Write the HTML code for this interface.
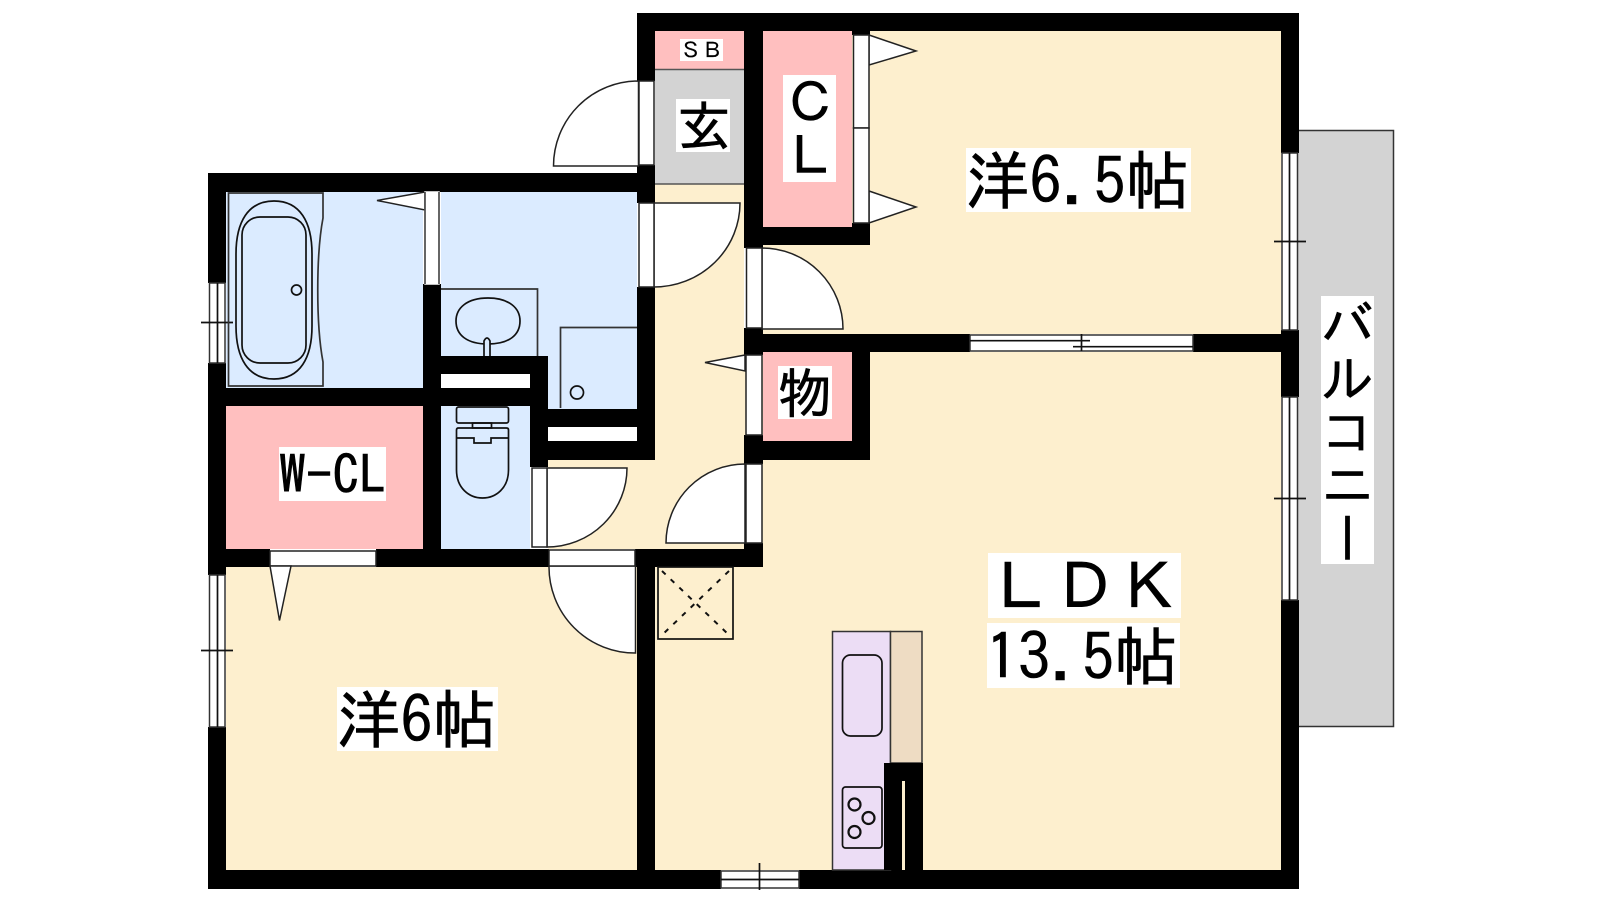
<!DOCTYPE html>
<html lang="ja"><head><meta charset="utf-8"><title>間取り図</title>
<style>
html,body{margin:0;padding:0;background:#fff;width:1600px;height:900px;overflow:hidden}
svg{position:absolute;left:0;top:0}
.v{position:absolute;left:1321px;top:296px;width:53px;height:268px;background:#fff;writing-mode:vertical-rl;font:53px/53px "IPAGothic","Noto Sans CJK JP",sans-serif;color:#000;text-align:center;white-space:nowrap;-webkit-text-stroke:.5px #000}
text{font-family:"IPAGothic","Noto Sans CJK JP",sans-serif;fill:#000;stroke:#000;stroke-width:.6px}
</style></head><body>
<svg width="1600" height="900" viewBox="0 0 1600 900">
<rect width="1600" height="900" fill="#fff"/>
<!-- balcony -->
<rect x="1295" y="130.500" width="98.500" height="596" fill="#d3d3d3" stroke="#333" stroke-width="1.500"/>
<!-- floors -->
<g fill="#fdefce">
<rect x="763" y="31" width="518" height="303"/>
<rect x="655" y="352" width="626" height="518"/>
<rect x="655" y="184" width="89" height="365"/>
<rect x="548" y="460" width="196" height="89"/>
<rect x="226" y="567" width="411" height="303"/>
</g>
<g fill="#dbebff">
<rect x="226" y="192" width="197" height="196"/>
<rect x="441" y="192" width="196" height="164"/>
<rect x="548" y="356" width="89" height="53"/>
<rect x="441" y="406" width="89" height="143"/>
</g>
<g fill="#ffbfbf">
<rect x="655" y="31" width="89" height="38"/>
<rect x="763" y="31" width="89" height="196"/>
<rect x="763" y="352" width="89" height="89"/>
<rect x="226" y="406" width="197" height="143"/>
</g>
<rect x="655" y="69" width="89" height="115" fill="#d3d3d3"/>
<path d="M655 69.500H744M655 184H744" stroke="#555" stroke-width="1.500"/>
<!-- white gaps -->
<rect x="441" y="374" width="89" height="14" fill="#fff"/>
<rect x="548" y="427" width="89" height="14" fill="#fff"/>
<!-- walls -->
<g fill="#000">
<rect x="637" y="13" width="662" height="18"/>
<rect x="637" y="13" width="18" height="68"/>
<rect x="637" y="165" width="18" height="38"/>
<rect x="208" y="173" width="447" height="19"/>
<rect x="744" y="13" width="19" height="235"/>
<rect x="852" y="31" width="18" height="4"/>
<rect x="852" y="223" width="18" height="22"/>
<rect x="744" y="227" width="126" height="18"/>
<rect x="1281" y="13" width="18" height="140"/>
<rect x="1281" y="330" width="18" height="67"/>
<rect x="1281" y="600" width="18" height="289"/>
<rect x="744" y="334" width="226" height="18"/>
<rect x="1193" y="334" width="88" height="18"/>
<rect x="744" y="328" width="19" height="27"/>
<rect x="852" y="334" width="18" height="126"/>
<rect x="744" y="441" width="126" height="19"/>
<rect x="744" y="435" width="19" height="29"/>
<rect x="744" y="543" width="19" height="24"/>
<rect x="635" y="549" width="128" height="18"/>
<rect x="637" y="549" width="18" height="340"/>
<rect x="637" y="287" width="18" height="173"/>
<rect x="548" y="409" width="89" height="18"/>
<rect x="548" y="441" width="89" height="19"/>
<rect x="530" y="356" width="18" height="111"/>
<rect x="441" y="356" width="89" height="18"/>
<rect x="208" y="388" width="322" height="18"/>
<rect x="423" y="284" width="18" height="265"/>
<rect x="208" y="549" width="62" height="18"/>
<rect x="376" y="549" width="173" height="18"/>
<rect x="208" y="173" width="18" height="110"/>
<rect x="208" y="363" width="18" height="212"/>
<rect x="208" y="727" width="18" height="162"/>
<rect x="208" y="870" width="513" height="19"/>
<rect x="799" y="870" width="500" height="19"/>
</g>
<g fill="#fff" stroke="#222" stroke-width="1.500">
<!-- entrance door -->
<path d="M638.500 81A85 85 0 0 0 553.500 166H638.500Z"/>
<rect x="639" y="81" width="15" height="84"/>
<!-- washroom door -->
<path d="M654 203H740A86 84 0 0 1 654 287Z"/>
<rect x="639" y="203" width="15" height="84"/>
<!-- bedroom1 door -->
<path d="M762 248A81 81 0 0 1 843 329H762Z"/>
<rect x="746.500" y="248" width="15.500" height="80"/>
<!-- storage sliding -->
<path d="M745 355L705 362.500L745 371Z"/>
<rect x="746" y="355" width="16" height="80"/>
<!-- hall door to LDK -->
<path d="M745 464A79 79 0 0 0 666 543H745Z"/>
<rect x="746" y="464" width="16" height="79"/>
<!-- toilet door -->
<path d="M547 468H627A80 79 0 0 1 547 547Z"/>
<rect x="532" y="468" width="15" height="79"/>
<!-- bedroom2 door -->
<path d="M549 566A86 86 0 0 0 635.500 653V566Z"/>
<rect x="549" y="550" width="86" height="16"/>
<!-- CL sliding -->
<path d="M869 35L916 51L869 65Z"/>
<path d="M869 191L916 207L869 223Z"/>
<rect x="853.500" y="35" width="15.500" height="93"/>
<rect x="853.500" y="128" width="15.500" height="95"/>
<!-- W-CL door -->
<rect x="270" y="551" width="106" height="15"/>
<path d="M270 566L279.500 620.500L291 566Z"/>
<!-- bath door -->
<path d="M425 192L377 200.500L425 210Z"/>
<rect x="425" y="192" width="14" height="92" stroke="#fff"/>
<path d="M425 192V284M439 192V284" fill="none" stroke="#333"/>
</g>
<!-- windows -->
<g fill="#fff" stroke="#333" stroke-width="1.500">
<rect x="209.500" y="283" width="15.500" height="80"/>
<rect x="209.500" y="575" width="15.500" height="152"/>
<rect x="1282" y="153" width="15.500" height="177"/>
<rect x="1282" y="397" width="15.500" height="203"/>
<rect x="721" y="871" width="78" height="17"/>
<rect x="970" y="335" width="223" height="16"/>
</g>
<g fill="none" stroke="#111" stroke-width="1.700">
<path d="M217.500 283V363M217.500 575V727M1289.500 153V330M1289.500 397V600M721 879.500H799"/>
<path d="M201 322.500H233M201 650.500H233M1274 241.500H1306M1274 498.500H1306M759.500 863V890"/>
<path d="M970 340.700H1090M1073 346.700H1193M1081.500 334V351"/>
<!-- bath -->
<path d="M323 193H228.500V386H323V362C316 325 316 255 323 218Z" stroke="#333"/>
<path d="M274 201C300 201 312 222 312 254V326C312 358 300 379 274 379C248 379 236 358 236 326V254C236 222 248 201 274 201Z"/>
<rect x="242" y="217" width="64" height="146" rx="18" ry="18"/>
<circle cx="296.500" cy="290" r="5"/>
<!-- sink -->
<path d="M441 289H537.500V356" stroke="#333"/>
<path d="M488 298C509 298 520 308 520 321C520 335 509 344 488 344C467 344 456 335 456 321C456 308 467 298 488 298Z"/>
<path d="M484 356V341Q487 335 490 341V356" fill="#dbebff"/>
<!-- washer -->
<path d="M560.500 408V327.500H637" stroke="#333"/>
<circle cx="577" cy="392.500" r="6.500"/>
<!-- toilet -->
<rect x="456.500" y="407" width="52" height="16" rx="2"/>
<rect x="472.500" y="423" width="19" height="5"/>
<path d="M456.500 438V430Q456.500 428 458.500 428H506.500Q508.500 428 508.500 430V438V470C508.500 488 496 498 482.500 498C469 498 456.500 488 456.500 470Z"/>
<path d="M456.500 438H474V443H491V438H508.500"/>
<!-- hatch -->
<rect x="658" y="567" width="75" height="72"/>
<path d="M662 571L729 635M729 571L662 635" stroke-width="2" stroke-dasharray="5 7"/>
</g>
<!-- kitchen -->
<rect x="832.500" y="631.500" width="58" height="238.500" fill="#ecddf5" stroke="#333" stroke-width="1.500"/>
<rect x="890.500" y="631.500" width="31.500" height="131.500" fill="#eedcc3" stroke="#333" stroke-width="1.500"/>
<rect x="884" y="763" width="18" height="107"/>
<rect x="905" y="763" width="18" height="107"/>
<rect x="884" y="763" width="39" height="18"/>
<g fill="none" stroke="#111" stroke-width="1.700">
<rect x="842.500" y="655" width="39.500" height="81" rx="8"/>
<rect x="842.500" y="787" width="39.500" height="61" rx="3"/>
<circle cx="854.500" cy="804.500" r="6" stroke-width="2.200"/>
<circle cx="868.500" cy="818" r="6" stroke-width="2.200"/>
<circle cx="854.500" cy="832" r="6" stroke-width="2.200"/>
</g>
<!-- labels -->
<g fill="#fff">
<rect x="680" y="39" width="43" height="22"/>
<rect x="676" y="99" width="54" height="53"/>
<rect x="783" y="75" width="53" height="107"/>
<rect x="778" y="366" width="54" height="53"/>
<rect x="279" y="447" width="107" height="54"/>
<rect x="966" y="148" width="225" height="64"/>
<rect x="988" y="553" width="193" height="65"/>
<rect x="987" y="623" width="193" height="65"/>
<rect x="337" y="687" width="161" height="64"/>
</g>
<text x="680" y="58" font-size="21.500" style="stroke-width:.2px">ＳＢ</text>
<text x="677" y="146" font-size="54">玄</text>
<text x="784" y="122" font-size="53">Ｃ</text>
<text x="784" y="175" font-size="53">Ｌ</text>
<text x="778" y="413" font-size="54">物</text>
<text x="279" y="494" font-size="53.500">W-CL</text>
<text x="965.500" y="204" font-size="64">洋6.5帖</text>
<text x="989" y="610" font-size="64">ＬＤＫ</text>
<text x="986" y="680" font-size="64">13.5帖</text>
<text x="336.500" y="743" font-size="64">洋6帖</text>
</svg>
<div class="v">バルコニー</div>
</body></html>
